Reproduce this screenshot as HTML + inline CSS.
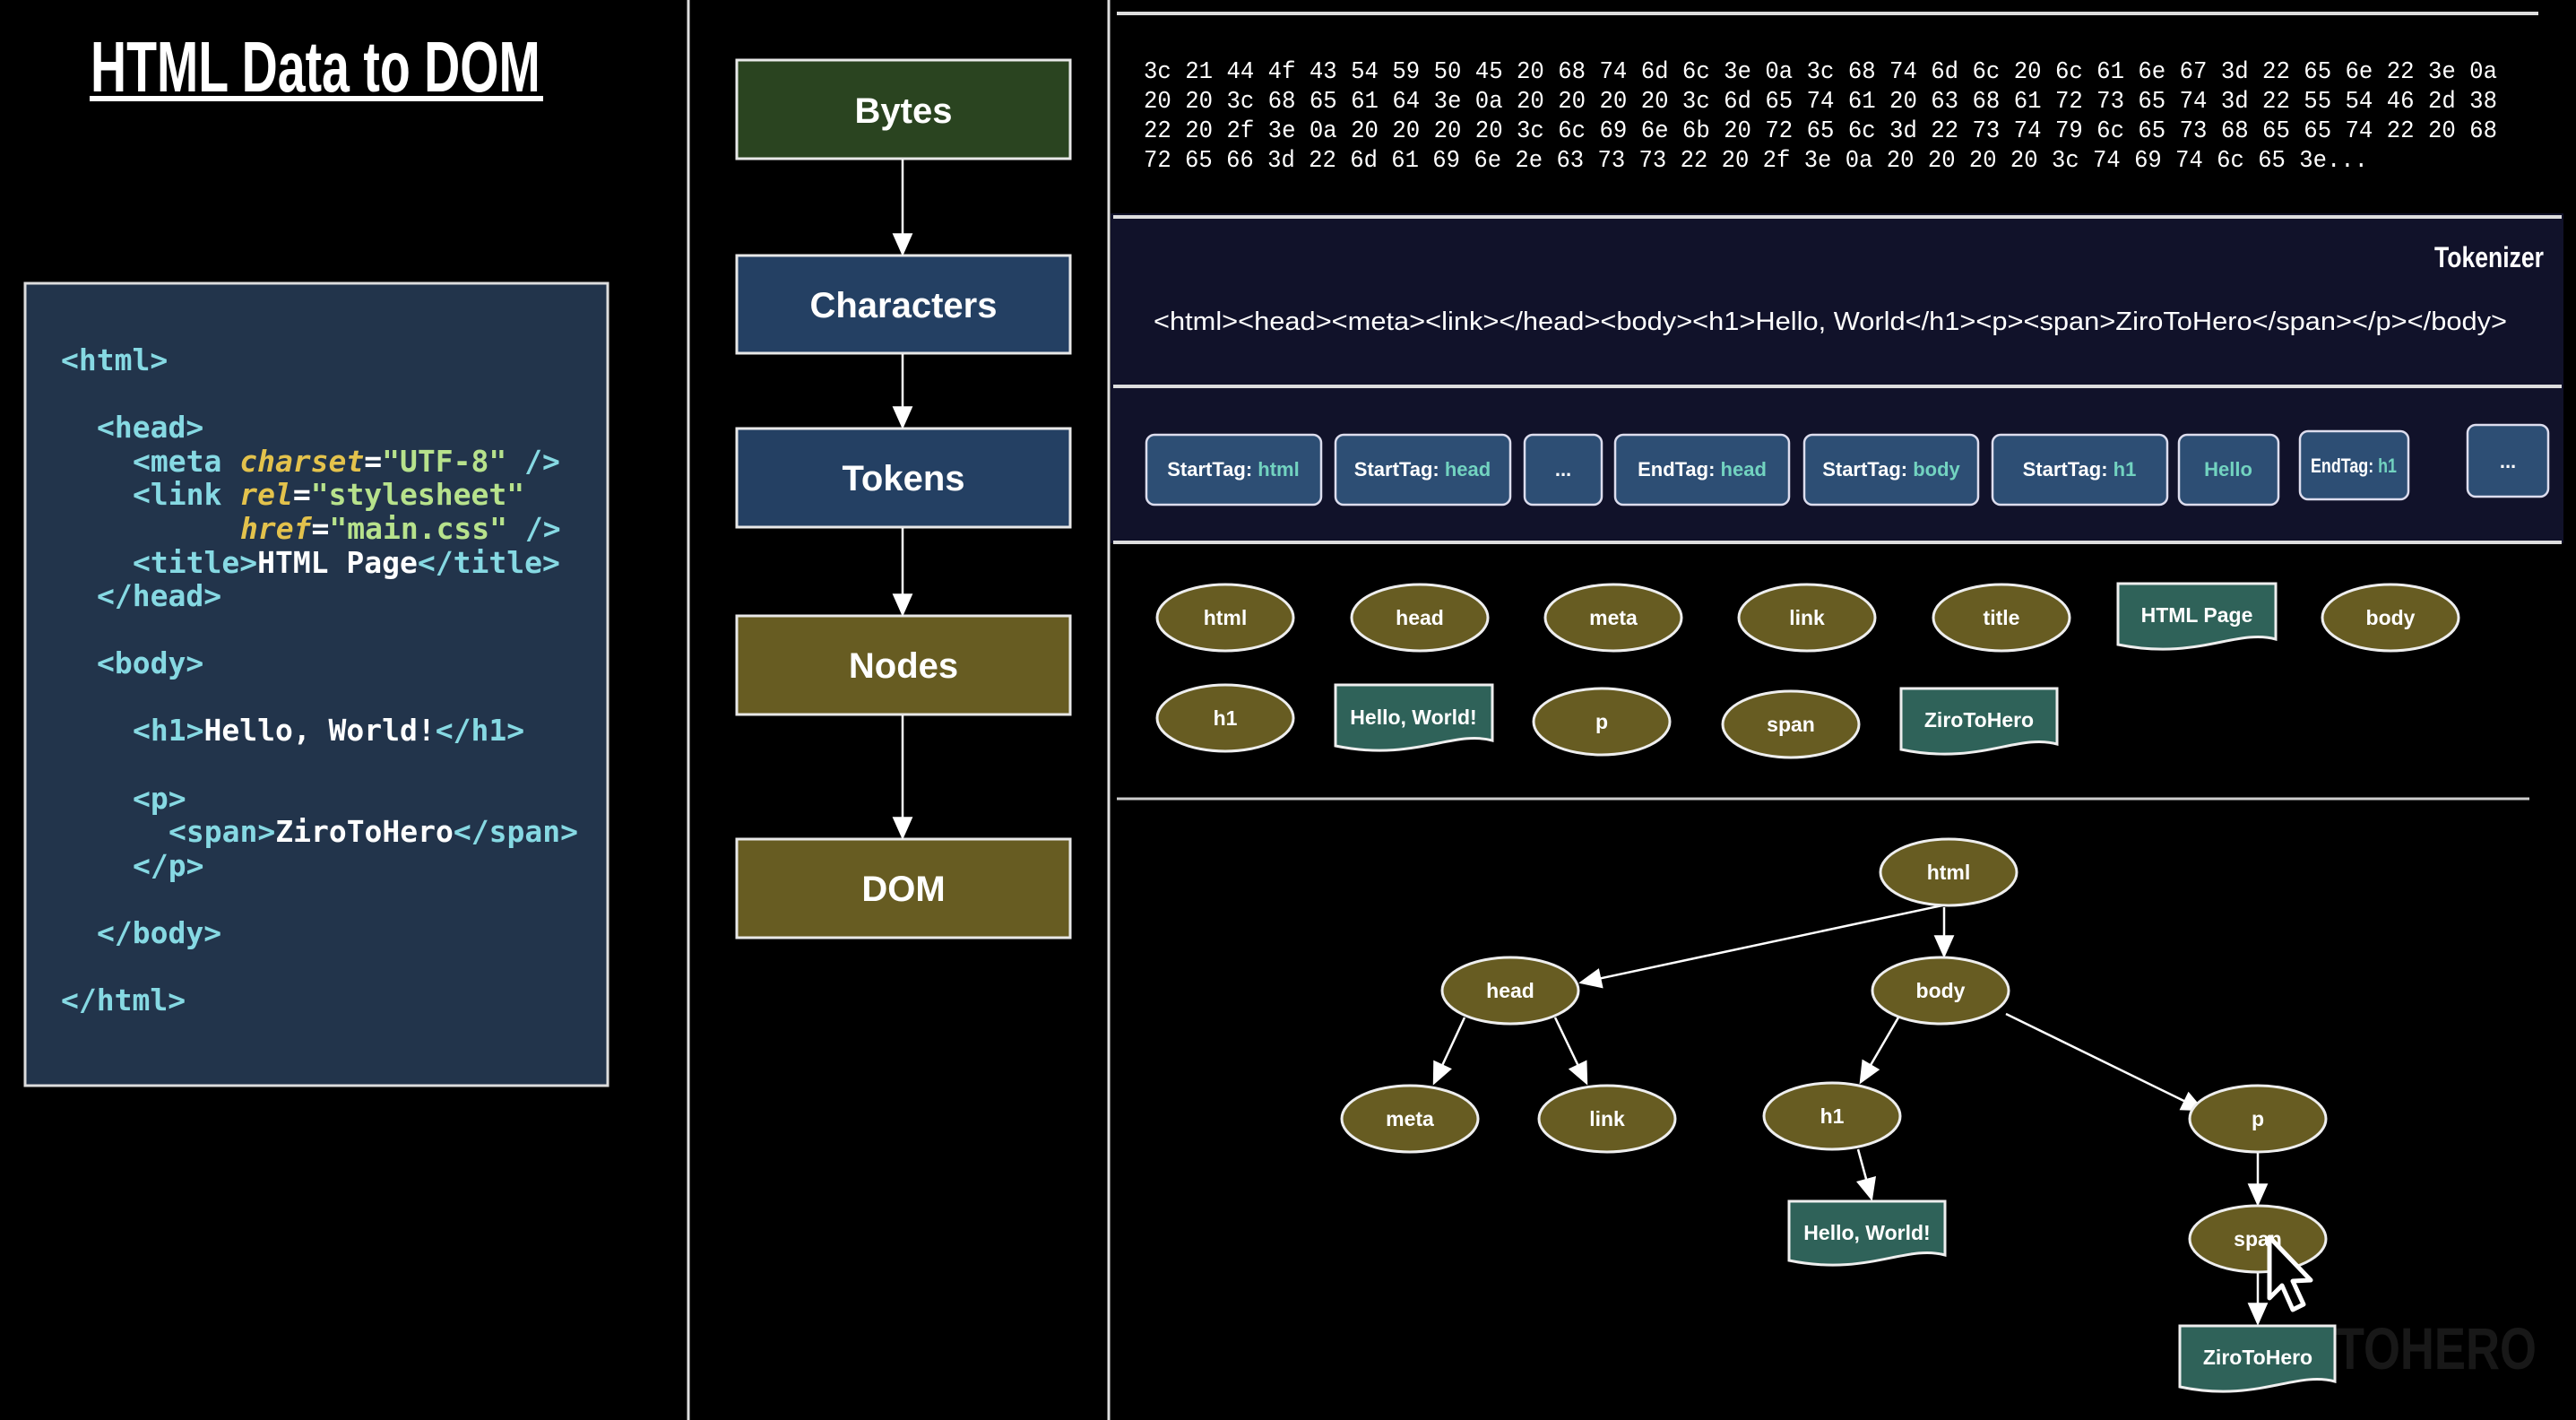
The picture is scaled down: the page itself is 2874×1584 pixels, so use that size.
<!DOCTYPE html>
<html><head><meta charset="utf-8">
<style>
html,body{margin:0;padding:0;background:#000;}
svg{display:block;}
.c{font-family:"DejaVu Sans Mono","Liberation Mono",monospace;font-size:33px;font-weight:bold;}
.t{fill:#86d9e3}.a{fill:#e3c24c;font-style:italic}.s{fill:#b7e28c}.w{fill:#fff}
.lbl{font-family:"Liberation Sans",sans-serif;font-weight:bold;fill:#fff;text-anchor:middle;}
</style></head>
<body>
<svg width="2874" height="1584" viewBox="0 0 2874 1584" xmlns="http://www.w3.org/2000/svg">
<defs>
<marker id="m" viewBox="0 0 20 20" refX="18" refY="10" markerWidth="26" markerHeight="26" orient="auto" markerUnits="userSpaceOnUse">
<path d="M1,2 L19,10 L1,18 Z" fill="#fff" stroke="#fff" stroke-width="1"/>
</marker>
</defs>
<rect width="2874" height="1584" fill="#000"/>

<!-- title -->
<text x="101" y="102" font-family="Liberation Sans,sans-serif" font-weight="bold" font-size="80" fill="#fff" transform="translate(101 0) scale(0.74 1) translate(-101 0)" textLength="678" lengthAdjust="spacingAndGlyphs">HTML Data to DOM</text>
<rect x="100" y="107" width="506" height="6" fill="#fff"/>

<!-- dividers -->
<line x1="768" y1="0" x2="768" y2="1584" stroke="#ddd" stroke-width="3"/>
<line x1="1237" y1="0" x2="1237" y2="1584" stroke="#ddd" stroke-width="3"/>

<!-- code box -->
<rect x="28" y="316" width="650" height="895" fill="#22344b" stroke="#ddd" stroke-width="3"/>
<g class="c">
<text x="68" y="413"><tspan class="t">&lt;html&gt;</tspan></text>
<text x="108" y="488"><tspan class="t">&lt;head&gt;</tspan></text>
<text x="148" y="526"><tspan class="t">&lt;meta </tspan><tspan class="a">charset</tspan><tspan class="w">=</tspan><tspan class="s">"UTF-8"</tspan><tspan class="t"> /&gt;</tspan></text>
<text x="148" y="563"><tspan class="t">&lt;link </tspan><tspan class="a">rel</tspan><tspan class="w">=</tspan><tspan class="s">"stylesheet"</tspan></text>
<text x="268" y="601"><tspan class="a">href</tspan><tspan class="w">=</tspan><tspan class="s">"main.css"</tspan><tspan class="t"> /&gt;</tspan></text>
<text x="148" y="639"><tspan class="t">&lt;title&gt;</tspan><tspan class="w">HTML Page</tspan><tspan class="t">&lt;/title&gt;</tspan></text>
<text x="108" y="676"><tspan class="t">&lt;/head&gt;</tspan></text>
<text x="108" y="751"><tspan class="t">&lt;body&gt;</tspan></text>
<text x="148" y="826"><tspan class="t">&lt;h1&gt;</tspan><tspan class="w">Hello, World!</tspan><tspan class="t">&lt;/h1&gt;</tspan></text>
<text x="148" y="902"><tspan class="t">&lt;p&gt;</tspan></text>
<text x="188" y="939"><tspan class="t">&lt;span&gt;</tspan><tspan class="w">ZiroToHero</tspan><tspan class="t">&lt;/span&gt;</tspan></text>
<text x="148" y="977"><tspan class="t">&lt;/p&gt;</tspan></text>
<text x="108" y="1052"><tspan class="t">&lt;/body&gt;</tspan></text>
<text x="68" y="1127"><tspan class="t">&lt;/html&gt;</tspan></text>
</g>

<!-- flow boxes -->
<g stroke="#e8e8e8" stroke-width="3">
<rect x="822" y="67" width="372" height="110" fill="#2a4420"/>
<rect x="822" y="285" width="372" height="109" fill="#244063"/>
<rect x="822" y="478" width="372" height="110" fill="#244063"/>
<rect x="822" y="687" width="372" height="110" fill="#675c22"/>
<rect x="822" y="936" width="372" height="110" fill="#675c22"/>
</g>
<g class="lbl" font-size="40">
<text x="1008" y="137">Bytes</text>
<text x="1008" y="354">Characters</text>
<text x="1008" y="547">Tokens</text>
<text x="1008" y="756">Nodes</text>
<text x="1008" y="1005">DOM</text>
</g>
<g stroke="#fff" stroke-width="2.5" marker-end="url(#m)">
<line x1="1007" y1="178" x2="1007" y2="283"/>
<line x1="1007" y1="395" x2="1007" y2="476"/>
<line x1="1007" y1="589" x2="1007" y2="685"/>
<line x1="1007" y1="798" x2="1007" y2="934"/>
</g>

<!-- bytes -->
<line x1="1246" y1="15" x2="2832" y2="15" stroke="#ddd" stroke-width="4"/>
<g font-family="Liberation Mono,monospace" font-size="27" fill="#fff">
<text x="1276" y="87" textLength="1510" lengthAdjust="spacingAndGlyphs">3c 21 44 4f 43 54 59 50 45 20 68 74 6d 6c 3e 0a 3c 68 74 6d 6c 20 6c 61 6e 67 3d 22 65 6e 22 3e 0a</text>
<text x="1276" y="120" textLength="1510" lengthAdjust="spacingAndGlyphs">20 20 3c 68 65 61 64 3e 0a 20 20 20 20 3c 6d 65 74 61 20 63 68 61 72 73 65 74 3d 22 55 54 46 2d 38</text>
<text x="1276" y="153" textLength="1510" lengthAdjust="spacingAndGlyphs">22 20 2f 3e 0a 20 20 20 20 3c 6c 69 6e 6b 20 72 65 6c 3d 22 73 74 79 6c 65 73 68 65 65 74 22 20 68</text>
<text x="1276" y="186" textLength="1366" lengthAdjust="spacingAndGlyphs">72 65 66 3d 22 6d 61 69 6e 2e 63 73 73 22 20 2f 3e 0a 20 20 20 20 3c 74 69 74 6c 65 3e...</text>
</g>

<!-- tokenizer band -->
<rect x="1239" y="238" width="1621" height="368" fill="#11122a"/>
<line x1="1242" y1="242" x2="2858" y2="242" stroke="#ddd" stroke-width="4"/>
<line x1="1242" y1="431" x2="2858" y2="431" stroke="#ddd" stroke-width="4"/>
<line x1="1242" y1="605" x2="2858" y2="605" stroke="#ddd" stroke-width="4"/>
<text x="2716" y="298" font-family="Liberation Sans,sans-serif" font-weight="bold" font-size="32" fill="#fff" textLength="122" lengthAdjust="spacingAndGlyphs">Tokenizer</text>
<text x="1287" y="368" font-family="Liberation Sans,sans-serif" font-size="29" fill="#fff" textLength="1510" lengthAdjust="spacingAndGlyphs">&lt;html&gt;&lt;head&gt;&lt;meta&gt;&lt;link&gt;&lt;/head&gt;&lt;body&gt;&lt;h1&gt;Hello, World&lt;/h1&gt;&lt;p&gt;&lt;span&gt;ZiroToHero&lt;/span&gt;&lt;/p&gt;&lt;/body&gt;</text>

<g fill="#2d4e74" stroke="#dde" stroke-width="2.5">
<rect x="1279" y="485" width="195" height="78" rx="9"/>
<rect x="1490" y="485" width="195" height="78" rx="9"/>
<rect x="1701" y="485" width="86" height="78" rx="9"/>
<rect x="1802" y="485" width="194" height="78" rx="9"/>
<rect x="2013" y="485" width="194" height="78" rx="9"/>
<rect x="2223" y="485" width="195" height="78" rx="9"/>
<rect x="2431" y="485" width="111" height="78" rx="9"/>
<rect x="2566" y="481" width="121" height="76" rx="9"/>
<rect x="2753" y="474" width="90" height="80" rx="9"/>
</g>
<g class="lbl" font-size="22">
<text x="1376" y="531">StartTag: <tspan fill="#72d3c0">html</tspan></text>
<text x="1587" y="531">StartTag: <tspan fill="#72d3c0">head</tspan></text>
<text x="1744" y="531">...</text>
<text x="1899" y="531">EndTag: <tspan fill="#72d3c0">head</tspan></text>
<text x="2110" y="531">StartTag: <tspan fill="#72d3c0">body</tspan></text>
<text x="2320" y="531">StartTag: <tspan fill="#72d3c0">h1</tspan></text>
<text x="2486" y="531" fill="#72d3c0">Hello</text>
<text x="2626" y="527" textLength="96" lengthAdjust="spacingAndGlyphs">EndTag: <tspan fill="#72d3c0">h1</tspan></text>
<text x="2798" y="522">...</text>
</g>

<!-- nodes list -->
<g fill="#675c22" stroke="#eee" stroke-width="3">
<ellipse cx="1367" cy="689" rx="76" ry="37"/>
<ellipse cx="1584" cy="689" rx="76" ry="37"/>
<ellipse cx="1800" cy="689" rx="76" ry="37"/>
<ellipse cx="2016" cy="689" rx="76" ry="37"/>
<ellipse cx="2233" cy="689" rx="76" ry="37"/>
<ellipse cx="2667" cy="689" rx="76" ry="37"/>
<ellipse cx="1367" cy="801" rx="76" ry="37"/>
<ellipse cx="1787" cy="805" rx="76" ry="37"/>
<ellipse cx="1998" cy="808" rx="76" ry="37"/>
</g>
<g fill="#2f6259" stroke="#eee" stroke-width="3">
<path d="M2363 651 h176 v62 c-44 -12 -88 24 -176 6 z"/>
<path d="M1490 764 h175 v62 c-44 -12 -88 24 -175 6 z"/>
<path d="M2121 768 h174 v62 c-44 -12 -88 24 -174 6 z"/>
</g>
<g class="lbl" font-size="23" font-weight="normal">
<text x="1367" y="697">html</text>
<text x="1584" y="697">head</text>
<text x="1800" y="697">meta</text>
<text x="2016" y="697">link</text>
<text x="2233" y="697">title</text>
<text x="2667" y="697">body</text>
<text x="1367" y="809">h1</text>
<text x="1787" y="813">p</text>
<text x="1998" y="816">span</text>
</g>
<g class="lbl" font-size="23">
<text x="2451" y="694">HTML Page</text>
<text x="1577" y="808">Hello, World!</text>
<text x="2208" y="811">ZiroToHero</text>
</g>

<line x1="1246" y1="891" x2="2822" y2="891" stroke="#ccc" stroke-width="3"/>

<!-- tree arrows -->
<g stroke="#fff" stroke-width="2.5" marker-end="url(#m)">
<line x1="2167" y1="1010" x2="1764" y2="1096"/>
<line x1="2169" y1="1012" x2="2169" y2="1066"/>
<line x1="1634" y1="1135" x2="1600" y2="1208"/>
<line x1="1735" y1="1135" x2="1770" y2="1208"/>
<line x1="2118" y1="1135" x2="2076" y2="1207"/>
<line x1="2238" y1="1131" x2="2457" y2="1238"/>
<line x1="2073" y1="1282" x2="2088" y2="1337"/>
<line x1="2519" y1="1286" x2="2519" y2="1343"/>
<line x1="2519" y1="1420" x2="2519" y2="1476"/>
</g>

<!-- watermark -->
<text x="2480" y="1527" font-family="Liberation Sans,sans-serif" font-weight="bold" font-size="66" fill="#181818" textLength="350" lengthAdjust="spacingAndGlyphs">ZIROTOHERO</text>

<!-- tree nodes -->
<g fill="#675c22" stroke="#eee" stroke-width="3">
<ellipse cx="2174" cy="973" rx="76" ry="37"/>
<ellipse cx="1685" cy="1105" rx="76" ry="37"/>
<ellipse cx="2165" cy="1105" rx="76" ry="37"/>
<ellipse cx="1573" cy="1248" rx="76" ry="37"/>
<ellipse cx="1793" cy="1248" rx="76" ry="37"/>
<ellipse cx="2044" cy="1245" rx="76" ry="37"/>
<ellipse cx="2519" cy="1248" rx="76" ry="37"/>
<ellipse cx="2519" cy="1382" rx="76" ry="37"/>
</g>
<g fill="#2f6259" stroke="#eee" stroke-width="3">
<path d="M1996 1340 h174 v60 c-44 -12 -88 24 -174 6 z"/>
<path d="M2432 1479 h173 v62 c-44 -12 -88 24 -173 6 z"/>
</g>
<g class="lbl" font-size="23" font-weight="normal">
<text x="2174" y="981">html</text>
<text x="1685" y="1113">head</text>
<text x="2165" y="1113">body</text>
<text x="1573" y="1256">meta</text>
<text x="1793" y="1256">link</text>
<text x="2044" y="1253">h1</text>
<text x="2519" y="1256">p</text>
<text x="2519" y="1390">span</text>
</g>
<g class="lbl" font-size="23">
<text x="2083" y="1383">Hello, World!</text>
<text x="2519" y="1522">ZiroToHero</text>
</g>

<!-- cursor -->
<path d="M2532 1380 L2532 1448 L2546 1434 L2558 1461 L2570 1455 L2558 1429 L2578 1428 Z" fill="#000" stroke="#fff" stroke-width="5" stroke-linejoin="round"/>
</svg>
</body></html>
